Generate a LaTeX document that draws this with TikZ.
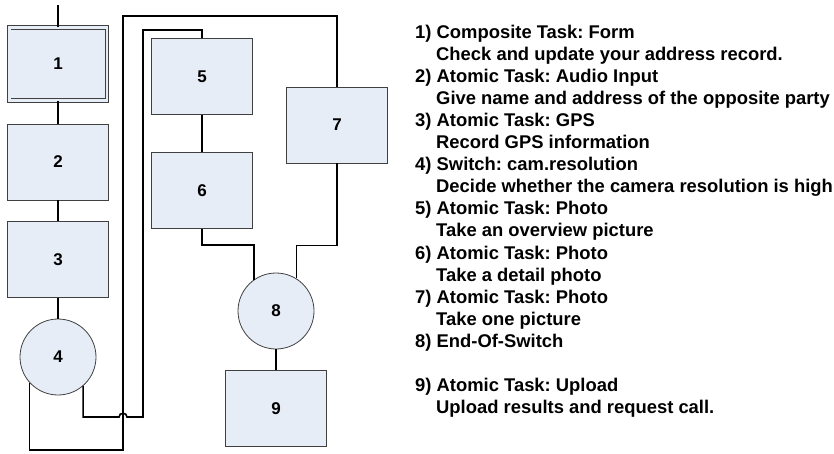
\documentclass[tikz,border=0pt]{standalone}
\usepackage{fontspec}
\setmainfont{Liberation Sans}
\usepackage{xcolor}
\definecolor{boxfill}{HTML}{E7EDF7}
\definecolor{boxline}{HTML}{404040}
\usepackage{tikz}
\frenchspacing

\begin{document}
\begin{tikzpicture}[x=1pt, y=-1pt,
  task/.style={draw=boxline, line width=0.8pt, fill=boxfill, minimum width=101pt, minimum height=76pt, inner sep=0pt, font=\fontsize{17}{20}\selectfont\bfseries},
  switch/.style={circle, draw=boxline, line width=0.8pt, fill=boxfill, minimum size=76pt, inner sep=0pt, font=\fontsize{17}{20}\selectfont\bfseries},
  flow/.style={line width=1.6pt, black},
  entry/.style={anchor=base west, inner sep=0pt, font=\fontsize{18.4}{22}\selectfont\bfseries}]
  \useasboundingbox (0,0) rectangle (834,453);

  \node[task, double=boxfill, double distance=2.5pt, minimum width=97.5pt, minimum height=73pt] (b1) at (58,64) {1};
  \node[task] (b2) at (58,162) {2};
  \node[task] (b3) at (58,259.5) {3};
  \node[switch] (c4) at (58,357) {4};
  \node[task] (b5) at (202,76.5) {5};
  \node[task] (b6) at (202,190.5) {6};
  \node[task] (b7) at (337,125) {7};
  \node[switch] (c8) at (276,311) {8};
  \node[task] (b9) at (276,408.5) {9};

  \coordinate (start) at (58,5);
  \draw[flow] (start) -- (b1.north);
  \draw[flow] (b1) -- (b2);
  \draw[flow] (b2) -- (b3);
  \draw[flow] (b3) -- (c4);
  \draw[flow] (b5) -- (b6);
  \draw[flow] (c8) -- (b9);
  \draw[flow] (c4.222) |- (123,450) -- (123,16) -| (b7.north);
  \draw[flow] (c4.-49) |- (119,417) .. controls (119,412) and (127,412) .. (127,417) -- (143,417) -- (143,30) -| (b5.north);
  \draw[flow] (b6.south) -- ++(0,16) -| (c8.125);
  \draw[flow] (b7.south) -- ++(0,82) -| (c8.58);

  \foreach \n/\head/\body in {1/Composite Task: Form/Check and update your address record.,
      2/Atomic Task: Audio Input/Give name and address of the opposite party,
      3/Atomic Task: GPS/Record GPS information,
      4/Switch: cam.resolution/Decide whether the camera resolution is high,
      5/Atomic Task: Photo/Take an overview picture,
      6/Atomic Task: Photo/Take a detail photo,
      7/Atomic Task: Photo/Take one picture,
      9/Atomic Task: Upload/Upload results and request call.} {
    \node[entry] (head\n) at (415,{38.3+44.14*(\n-1)}) {\n) \head};
    \node[entry] (body\n) at (436,{60.4+44.14*(\n-1)}) {\body};
  }
  \node[entry] (head8) at (415,{38.3+44.14*7}) {8) End-Of-Switch};
\end{tikzpicture}
\end{document}
